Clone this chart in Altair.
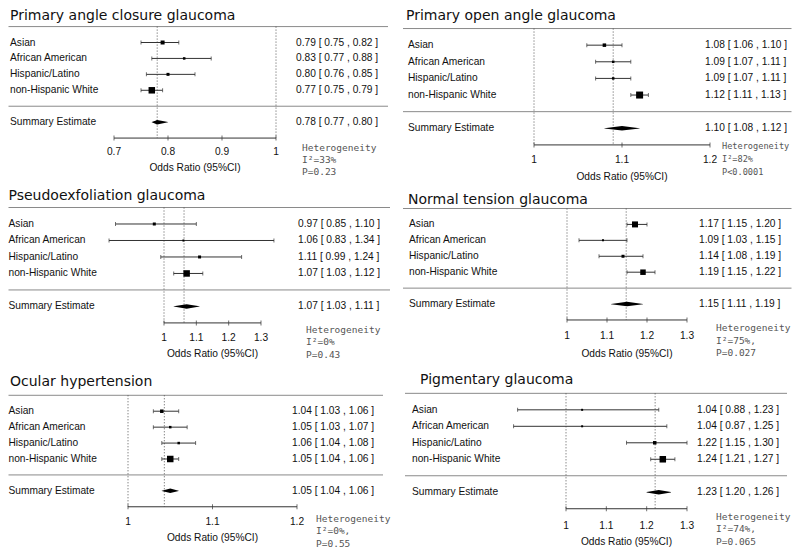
import altair as alt
import pandas as pd

# ---------------- data ----------------
GROUPS = ["Asian", "African American", "Hispanic/Latino", "non-Hispanic White"]
SUMMARY_LABEL = "Summary Estimate"
AXIS_TITLE = "Odds Ratio (95%CI)"

TITLES = ["Primary angle closure glaucoma", "Primary open angle glaucoma",
          "Pseudoexfoliation glaucoma", "Normal tension glaucoma",
          "Ocular hypertension", "Pigmentary glaucoma"]

PACG_EST = [0.79, 0.83, 0.80, 0.77]
PACG_LO = [0.75, 0.77, 0.76, 0.75]
PACG_HI = [0.82, 0.88, 0.85, 0.79]
PACG_W = [4, 2.5, 3, 6.5]
PACG_SUM = [0.78, 0.77, 0.80]
PACG_REF = [1.0, 0.78]
PACG_TICKS = [0.7, 0.8, 0.9, 1.0]
PACG_TICK_LABELS = ["0.7", "0.8", "0.9", "1"]
PACG_HET = ["Heterogeneity", "I²=33%", "P=0.23"]

POAG_EST = [1.08, 1.09, 1.09, 1.12]
POAG_LO = [1.06, 1.07, 1.07, 1.11]
POAG_HI = [1.10, 1.11, 1.11, 1.13]
POAG_W = [3.5, 2.5, 2.5, 7]
POAG_SUM = [1.10, 1.08, 1.12]
POAG_REF = [1.0, 1.09]
POAG_TICKS = [1.0, 1.1, 1.2]
POAG_TICK_LABELS = ["1", "1.1", "1.2"]
POAG_HET = ["Heterogeneity", "I²=82%", "P<0.0001"]

PXG_EST = [0.97, 1.06, 1.11, 1.07]
PXG_LO = [0.85, 0.83, 0.99, 1.03]
PXG_HI = [1.10, 1.34, 1.24, 1.12]
PXG_W = [3, 2, 3, 6.5]
PXG_SUM = [1.07, 1.03, 1.11]
PXG_REF = [1.0, 1.062]
PXG_TICKS = [1.0, 1.1, 1.2, 1.3]
PXG_TICK_LABELS = ["1", "1.1", "1.2", "1.3"]
PXG_HET = ["Heterogeneity", "I²=0%", "P=0.43"]

NTG_EST = [1.17, 1.09, 1.14, 1.19]
NTG_LO = [1.15, 1.03, 1.08, 1.15]
NTG_HI = [1.20, 1.15, 1.19, 1.22]
NTG_W = [6, 2, 3, 5.5]
NTG_SUM = [1.15, 1.11, 1.19]
NTG_REF = [1.0, 1.148]
NTG_TICKS = [1.0, 1.1, 1.2, 1.3]
NTG_TICK_LABELS = ["1", "1.1", "1.2", "1.3"]
NTG_HET = ["Heterogeneity", "I²=75%,", "P=0.027"]

OHT_EST = [1.04, 1.05, 1.06, 1.05]
OHT_LO = [1.03, 1.03, 1.04, 1.04]
OHT_HI = [1.06, 1.07, 1.08, 1.06]
OHT_W = [3.5, 2.5, 2.5, 6.5]
OHT_SUM = [1.05, 1.04, 1.06]
OHT_REF = [1.0, 1.043]
OHT_TICKS = [1.0, 1.1, 1.2]
OHT_TICK_LABELS = ["1", "1.1", "1.2"]
OHT_HET = ["Heterogeneity", "I²=0%,", "P=0.55"]

PG_EST = [1.04, 1.04, 1.22, 1.24]
PG_LO = [0.88, 0.87, 1.15, 1.21]
PG_HI = [1.23, 1.25, 1.30, 1.27]
PG_W = [2, 2, 3.5, 6.5]
PG_SUM = [1.23, 1.20, 1.26]
PG_REF = [1.0, 1.221]
PG_TICKS = [1.0, 1.1, 1.2, 1.3]
PG_TICK_LABELS = ["1", "1.1", "1.2", "1.3"]
PG_HET = ["Heterogeneity", "I²=74%,", "P=0.065"]

# ---------------- layout (reference page pixels) ----------------
S = 0.978
ROW_START = [0, 178, 359]
ROW_H = [178, 181, 182]
CELL_W = 392

LAYOUTS = [
    dict(row=0, col=0, title=(10, 15), line=(0, 388), top=22, axis=136, xlo=114, xhi=276,
         tick_y=150, atitle_y=167, label_x=10, val_x=296, het=(302, 146, 12.6, 9.5)),
    dict(row=0, col=1, title=(406, 15.5), line=(403, 800), top=24, axis=143, xlo=534, xhi=710,
         tick_y=158, atitle_y=176, label_x=408, val_x=705, het=(722, 145.5, 13.3, 8.6)),
    dict(row=1, col=0, title=(8, 199), line=(0, 390), top=207, axis=325, xlo=164, xhi=261,
         tick_y=340, atitle_y=357, label_x=8, val_x=298, het=(306, 332, 13, 9.5)),
    dict(row=1, col=1, title=(408, 203), line=(403, 800), top=208, axis=322, xlo=567, xhi=687,
         tick_y=338, atitle_y=357, label_x=409, val_x=699, het=(716, 330, 13, 9.5)),
    dict(row=2, col=0, title=(10, 389), line=(0, 383), top=399, axis=513, xlo=128, xhi=297,
         tick_y=529, atitle_y=545, label_x=7, val_x=292, het=(316, 525, 12.8, 9.5)),
    dict(row=2, col=1, title=(420, 387), line=(405, 787), top=397, axis=515, xlo=566, xhi=687,
         tick_y=533, atitle_y=549, label_x=412, val_x=697, het=(716, 523, 12.8, 9.5)),
]

LABEL_FONT = "Liberation Sans"
LABEL_SIZE = 10.2
TITLE_FONT = "DejaVu Sans"
HET_FONT = "DejaVu Sans Mono"


def fmt(e, l, h):
    return f"{e:.2f} [ {l:.2f} , {h:.2f} ]"


def panel(title, est, lo, hi, w, summ, refs, ticks, tick_labels, het, L):
    r = L["row"]
    rs = ROW_START[r]
    off = 8 if L["col"] == 0 else 400

    def Y(py):
        return (py - 3) * S - rs

    def X(px):
        return max(0.5, min(CELL_W - 0.5, px - off))

    xs = alt.Scale(domain=[ticks[0], ticks[-1]], range=[X(L["xlo"]), X(L["xhi"])],
                   nice=False, zero=False)
    ys = alt.Scale(domain=[0, 7], range=[Y(L["top"]), Y(L["axis"])], nice=False, zero=False)

    rows = pd.DataFrame({
        "row": [1, 2, 3, 4],
        "label": GROUPS,
        "est": est, "lo": lo, "hi": hi,
        "sz": [v * v for v in w],
        "txt": [fmt(a, b, c) for a, b, c in zip(est, lo, hi)],
    })
    text_rows = pd.DataFrame({
        "row": [1, 2, 3, 4, 6],
        "label": GROUPS + [SUMMARY_LABEL],
        "txt": list(rows["txt"]) + [fmt(*summ)],
    })
    caps = pd.DataFrame({"x": lo + hi, "row": [1, 2, 3, 4] * 2})
    seps = pd.DataFrame({"y": [0, 5]})
    ref_df = pd.DataFrame({"ref": refs})
    diamond = pd.DataFrame({"x": [summ[1], summ[0], summ[2]], "row": [6, 6, 6],
                            "w": [0.3, 4.5, 0.3], "k": [0, 1, 2]})
    tick_df = pd.DataFrame({"t": ticks, "lab": tick_labels})
    axis_df = pd.DataFrame({"a": [ticks[0]], "b": [ticks[-1]]})

    X_ = lambda f: alt.X(f, scale=xs, axis=None)
    Y_ = lambda f: alt.Y(f, scale=ys, axis=None)

    hx, hy, hlh, hfs = L["het"]

    layers = [
        alt.Chart(seps).mark_rule(color="#8a8a8a", strokeWidth=1).encode(
            x=alt.value(X(L["line"][0])), x2=alt.value(X(L["line"][1])), y=Y_("y:Q")),
        alt.Chart(ref_df).mark_rule(color="#555555", strokeWidth=1, strokeDash=[1, 2]).encode(
            x=X_("ref:Q"), y=alt.value(Y(L["top"])), y2=alt.value(Y(L["axis"]))),
        alt.Chart(rows).mark_rule(color="#333333", strokeWidth=1).encode(
            x=X_("lo:Q"), x2="hi:Q", y=Y_("row:Q")),
        alt.Chart(caps).mark_tick(orient="vertical", size=4, thickness=1, color="#333333").encode(
            x=X_("x:Q"), y=Y_("row:Q")),
        alt.Chart(rows).mark_square(color="black", filled=True, opacity=1).encode(
            x=X_("est:Q"), y=Y_("row:Q"), size=alt.Size("sz:Q", scale=None, legend=None)),
        alt.Chart(diamond).mark_trail(color="black").encode(
            x=X_("x:Q"), y=Y_("row:Q"), size=alt.Size("w:Q", scale=None, legend=None),
            order="k:Q"),
        alt.Chart(axis_df).mark_rule(color="#333333", strokeWidth=1).encode(
            x=X_("a:Q"), x2="b:Q", y=alt.value(Y(L["axis"]))),
        alt.Chart(tick_df).mark_tick(orient="vertical", size=5, thickness=1, color="#333333").encode(
            x=X_("t:Q"), y=alt.value(Y(L["axis"]))),
        alt.Chart(tick_df).mark_text(font=LABEL_FONT, fontSize=LABEL_SIZE, color="#111111",
                                     baseline="middle").encode(
            x=X_("t:Q"), y=alt.value(Y(L["tick_y"])), text="lab:N"),
        alt.Chart(axis_df).mark_text(font=LABEL_FONT, fontSize=LABEL_SIZE, color="#111111",
                                     baseline="middle").encode(
            x=alt.value((X(L["xlo"]) + X(L["xhi"])) / 2), y=alt.value(Y(L["atitle_y"])),
            text=alt.value(AXIS_TITLE)),
        alt.Chart(text_rows).mark_text(font=LABEL_FONT, fontSize=LABEL_SIZE, color="#111111",
                                       align="left", baseline="middle").encode(
            x=alt.value(X(L["label_x"])), y=Y_("row:Q"), text="label:N"),
        alt.Chart(text_rows).mark_text(font=LABEL_FONT, fontSize=LABEL_SIZE, color="#111111",
                                       align="left", baseline="middle").encode(
            x=alt.value(X(L["val_x"])), y=Y_("row:Q"), text="txt:N"),
        alt.Chart(axis_df).mark_text(font=TITLE_FONT, fontSize=14, color="#111111",
                                     align="left", baseline="alphabetic").encode(
            x=alt.value(X(L["title"][0])), y=alt.value(Y(L["title"][1])), text=alt.value(title)),
        alt.Chart(axis_df).mark_text(font=HET_FONT, fontSize=hfs, color="#555555",
                                     align="left", baseline="top", lineBreak="\n",
                                     lineHeight=hlh * S).encode(
            x=alt.value(X(hx)), y=alt.value(Y(hy) - 5),
            text=alt.value("\n".join(het))),
    ]
    return alt.layer(*layers).properties(width=CELL_W, height=ROW_H[r])


P = [
    panel(TITLES[0], PACG_EST, PACG_LO, PACG_HI, PACG_W, PACG_SUM, PACG_REF, PACG_TICKS, PACG_TICK_LABELS, PACG_HET, LAYOUTS[0]),
    panel(TITLES[1], POAG_EST, POAG_LO, POAG_HI, POAG_W, POAG_SUM, POAG_REF, POAG_TICKS, POAG_TICK_LABELS, POAG_HET, LAYOUTS[1]),
    panel(TITLES[2], PXG_EST, PXG_LO, PXG_HI, PXG_W, PXG_SUM, PXG_REF, PXG_TICKS, PXG_TICK_LABELS, PXG_HET, LAYOUTS[2]),
    panel(TITLES[3], NTG_EST, NTG_LO, NTG_HI, NTG_W, NTG_SUM, NTG_REF, NTG_TICKS, NTG_TICK_LABELS, NTG_HET, LAYOUTS[3]),
    panel(TITLES[4], OHT_EST, OHT_LO, OHT_HI, OHT_W, OHT_SUM, OHT_REF, OHT_TICKS, OHT_TICK_LABELS, OHT_HET, LAYOUTS[4]),
    panel(TITLES[5], PG_EST, PG_LO, PG_HI, PG_W, PG_SUM, PG_REF, PG_TICKS, PG_TICK_LABELS, PG_HET, LAYOUTS[5]),
]

chart = alt.concat(*P, columns=2, spacing=0, bounds="flush").properties(
    padding=0, background="white"
).configure_view(stroke=None)

chart.save("out.html", embed_options={"renderer": "svg", "actions": False})
